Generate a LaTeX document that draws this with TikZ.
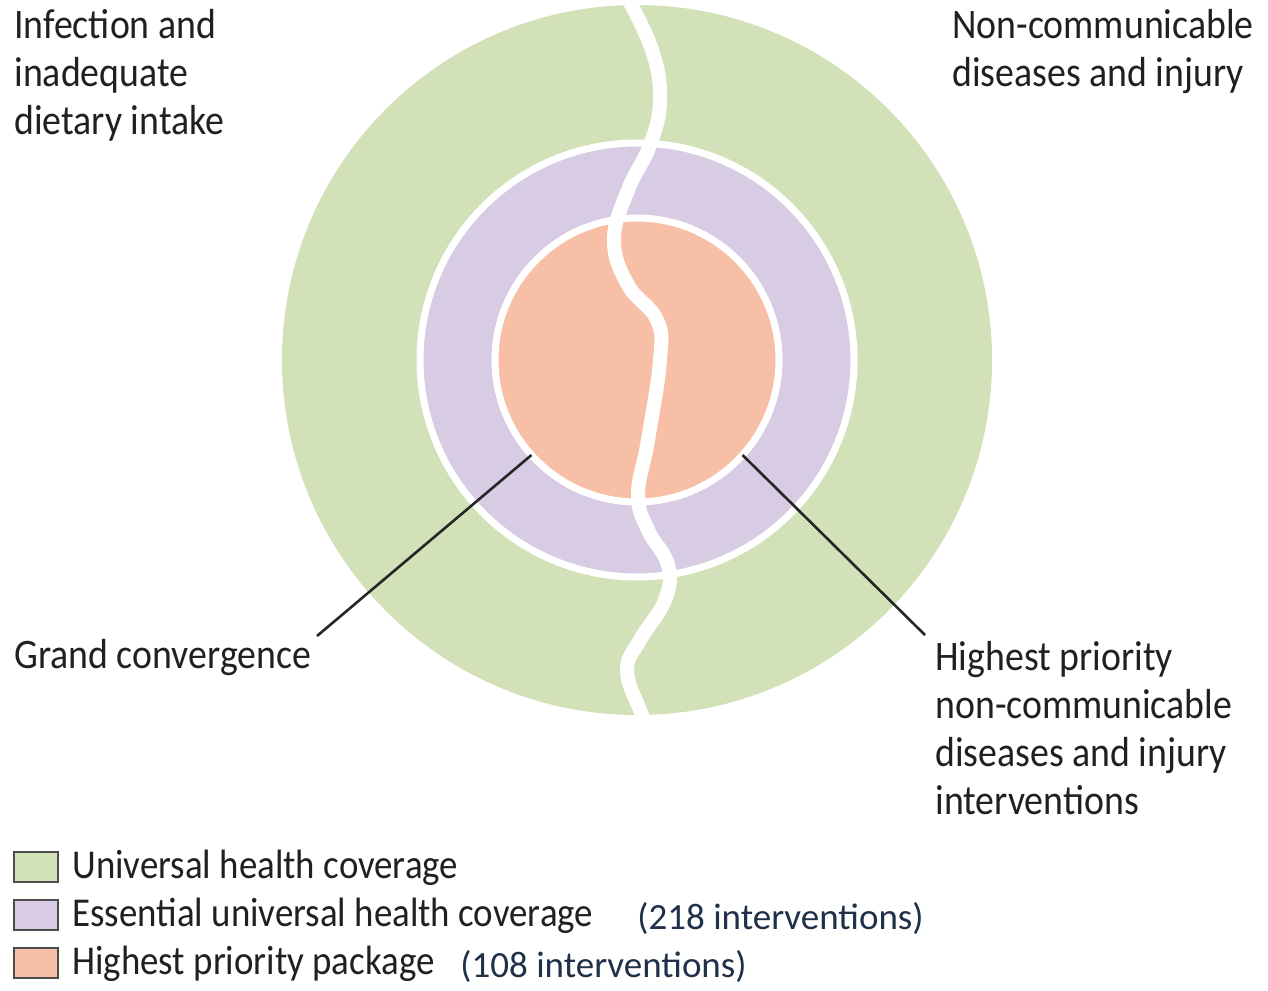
\documentclass[tikz,border=0pt]{standalone}
\usepackage{fontspec}
\setmainfont{Carlito}[FakeStretch=0.9]
\newfontfamily\tallyfont{Carlito}
\definecolor{uhcgreen}{HTML}{D3E1B8}
\definecolor{euhcpurple}{HTML}{D8CCE4}
\definecolor{hppsalmon}{HTML}{F7BFA5}
\definecolor{labelink}{HTML}{231F20}
\definecolor{tallyink}{HTML}{1F3049}

\begin{document}
\begin{tikzpicture}[x=0.5pt,y=-0.5pt,
  ring/.style={circle,inner sep=0pt,outer sep=0pt,draw=white,line width=3.5pt},
  tag/.style={anchor=north west,inner sep=0pt,align=left,text=labelink,font=\fontsize{21}{24}\selectfont},
  swatch/.style={draw=black!70,line width=1pt,minimum width=22pt,minimum height=15pt,inner sep=0pt,anchor=north west},
  keytext/.style={anchor=base west,inner sep=0pt,text=labelink,font=\fontsize{20.5}{24}\selectfont},
  tally/.style={anchor=base west,inner sep=0pt,text=tallyink,font=\tallyfont\fontsize{18.5}{22}\selectfont},
  leader/.style={draw=black!85,line width=1.3pt}]
  \useasboundingbox (0,0) rectangle (1268,990);

  % three nested coverage rings
  \node[ring,draw=none,fill=uhcgreen,minimum size=355pt] (uhc) at (637,360) {};
  \node[ring,fill=euhcpurple,minimum size=217pt] (euhc) at (637,360) {};
  \node[ring,fill=hppsalmon,minimum size=142pt] (hpp) at (637,360) {};

  % wavy split between the two halves
  \draw[white,line width=7pt] plot[smooth,tension=0.7] coordinates {
    (626,-5) (652,50) (660,100) (650,145) (628,190) (614,240) (628,285)
    (657,320) (660,360) (648,440) (638,495) (648,530) (668,565) (665,600)
    (640,640) (627,670) (640,710) (650,730)};

  % group labels
  \node[tag] (infect) at (14,9) {Infection and\\inadequate\\dietary intake};
  \node[tag] (ncd) at (952,9) {Non-communicable\\diseases and injury};
  \node[tag,anchor=base west] (grand) at (14,668) {Grand convergence};
  \node[tag] (hpncd) at (935,641) {Highest priority\\non-communicable\\diseases and injury\\interventions};

  % leader lines to the core
  \coordinate (grand-tip) at (317,636);
  \coordinate (hpncd-tip) at (925,635);
  \draw[leader] (hpp.222) -- (grand-tip);
  \draw[leader] (hpp.318) -- (hpncd-tip);

  % legend
  \node[swatch,fill=uhcgreen] (key1) at (13,851) {};
  \node[swatch,fill=euhcpurple] (key2) at (13,899) {};
  \node[swatch,fill=hppsalmon] (key3) at (13,947) {};
  \node[keytext] (key1-text) at (72,878) {Universal health coverage};
  \node[keytext] (key2-text) at (72,926) {Essential universal health coverage};
  \node[keytext] (key3-text) at (72,974) {Highest priority package};
  \node[tally] (key2-tally) at (637,929) {(218 interventions)};
  \node[tally] (key3-tally) at (460,977) {(108 interventions)};
\end{tikzpicture}
\end{document}
